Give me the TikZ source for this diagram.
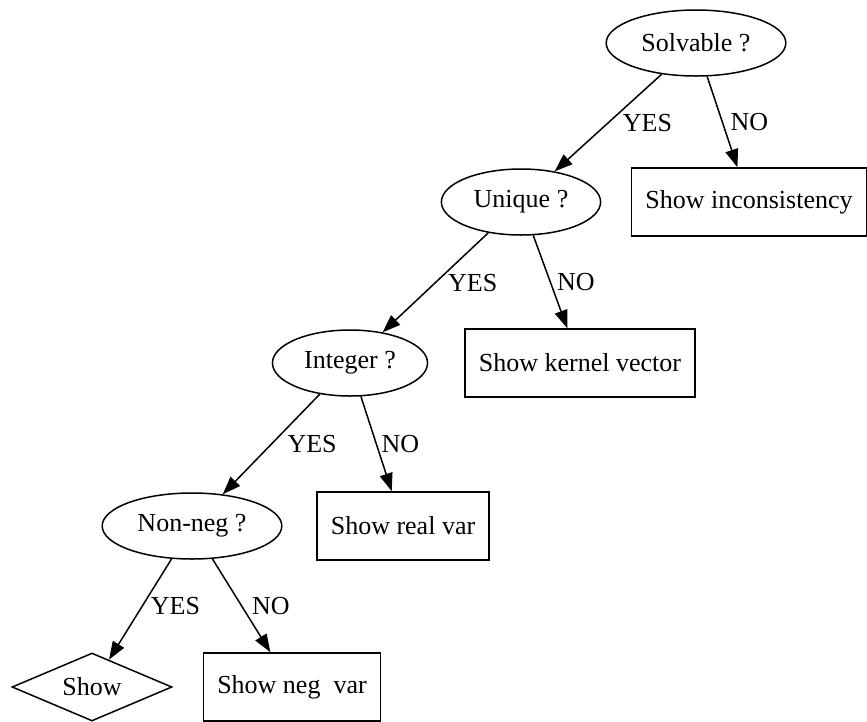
\documentclass[tikz,border=0pt]{standalone}
\usepackage{fontspec}
\setmainfont{Liberation Serif}
\usetikzlibrary{positioning, shapes.geometric, arrows.meta}

\begin{document}
\begin{tikzpicture}[x=1pt, y=-1pt, font=\fontsize{26}{31}\selectfont,
    ask/.style={ellipse, draw, line width=1.5pt, inner xsep=9pt, inner ysep=0pt, minimum height=66pt},
    act/.style={rectangle, draw, line width=1.5pt, inner xsep=14pt, minimum height=68pt},
    done/.style={diamond, draw, line width=1.5pt, aspect=2.35, inner sep=0pt, minimum width=160pt, minimum height=68pt},
    flow/.style={-{Triangle[length=18pt, width=13pt]}, line width=1.5pt},
    lbl/.style={anchor=west, inner sep=0pt}]
        \useasboundingbox (0,0) rectangle (867,721);
        % questions and answers, one rank per row
        \node[ask] (solv) at (696,43) {Solvable ?};
        \node[act] (incons) at (749,202) {Show inconsistency};
        \node[ask] (uniq) at (521,202) {Unique ?};
        \node[act] (kernel) at (580,363) {Show kernel vector};
        \node[ask] (integ) at (350,363) {Integer ?};
        \node[act] (realvar) at (403,526) {Show real var};
        \node[ask] (nonneg) at (192,526) {Non-neg ?};
        \node[done] (show) at (92,687) {Show};
        \node[act] (negvar) at (292,687) {Show neg\ \ var};

        \draw[flow] (solv) -- node[lbl, pos=0.5, xshift=14pt] (yes1) {YES} (uniq);
        \draw[flow] (solv) -- node[lbl, pos=0.5, xshift=7.5pt] (no1) {NO} (incons);
        \draw[flow] (uniq) -- node[lbl, pos=0.5, xshift=12pt] (yes2) {YES} (integ);
        \draw[flow] (uniq) -- node[lbl, pos=0.5, xshift=6pt] (no2) {NO} (kernel);
        \draw[flow] (integ) -- node[lbl, pos=0.5, xshift=15.5pt] (yes3) {YES} (nonneg);
        \draw[flow] (integ) -- node[lbl, pos=0.5, xshift=4.5pt] (no3) {NO} (realvar);
        \draw[flow] (nonneg) -- node[lbl, pos=0.47, xshift=8pt] (yes4) {YES} (show);
        \draw[flow] (nonneg) -- node[lbl, pos=0.5, xshift=10pt] (no4) {NO} (negvar);
\end{tikzpicture}
\end{document}
